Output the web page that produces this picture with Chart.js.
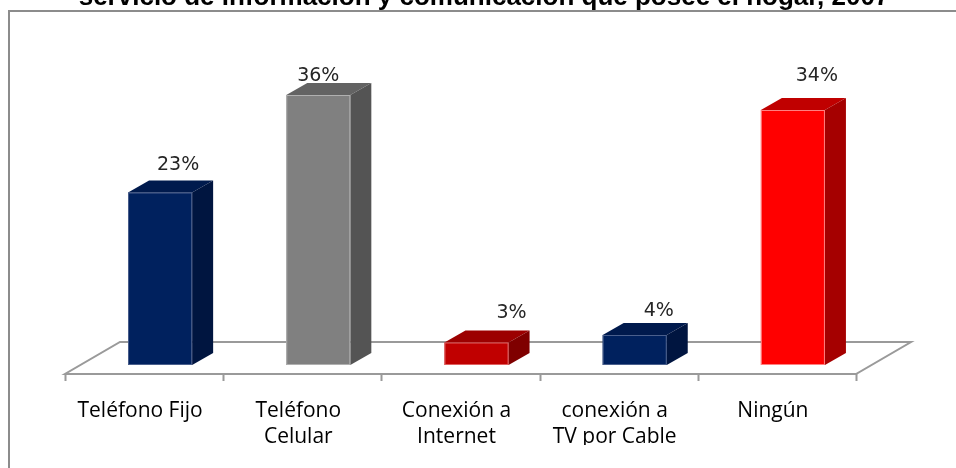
<!DOCTYPE html>
<html>
<head>
<meta charset="utf-8">
<script src="https://cdn.jsdelivr.net/npm/chart.js@4"></script>
<style>
  html, body { margin: 0; padding: 0; background: #fff; }
  #chart { display: block; }
</style>
</head>
<body>
<canvas id="chart" width="956" height="468"></canvas>
<script>
const titleText = "servicio de información y comunicación que posee el hogar, 2007";
const categories = [
  "Teléfono Fijo",
  ["Teléfono", "Celular"],
  ["Conexión a", "Internet"],
  ["conexión a", "TV por Cable"],
  "Ningún",
];
const values = [23, 36, 3, 4, 34];
const valueLabels = ["23%", "36%", "3%", "4%", "34%"];

const frontColors = ["#00215e", "#808080", "#c00000", "#00215e", "#ff0000"];
const sideColors = ["#001540", "#545454", "#7f0000", "#001540", "#a50000"];
const topColors = ["#001a4d", "#636363", "#9c0000", "#001a4d", "#c00000"];
const edgeColors = ["#4a5f8c", "#b0b0b0", "#e06060", "#4a5f8c", "#ff8080"];

// depth of each bar and of the floor, in pixels
const barDepth = { dx: 21, dy: -12 };
const floorFront = { dx: -16, dy: 9 };
const floorBack = { dx: 39, dy: -23 };
// the labels in the original sit a little unevenly
const labelNudge = [[0, 0], [-18, 8], [17, -2], [6, 3], [6, -7]];

const frameAndTitle = {
  id: "frameAndTitle",
  afterDraw(chart) {
    const ctx = chart.ctx;
    ctx.save();
    ctx.fillStyle = "#8c8c8c";
    ctx.fillRect(8, 10, 2, 458);
    ctx.fillRect(8, 10, 948, 2);
    ctx.fillStyle = "#000";
    ctx.font = "bold 26px 'Liberation Sans', Arial, sans-serif";
    ctx.textAlign = "center";
    ctx.textBaseline = "alphabetic";
    ctx.fillText(titleText, 484, 5);
    ctx.restore();
  },
};

const floor3d = {
  id: "floor3d",
  beforeDatasetsDraw(chart) {
    const ctx = chart.ctx;
    const x = chart.scales.x;
    const y0 = chart.scales.y.getPixelForValue(0);
    const fl = x.left + floorFront.dx;
    const fr = x.right + floorFront.dx;
    const fy = y0 + floorFront.dy;
    const bl = x.left + floorBack.dx;
    const br = x.right + floorBack.dx;
    const by = y0 + floorBack.dy;

    ctx.save();
    ctx.strokeStyle = "#9a9a9a";
    ctx.lineWidth = 2;
    ctx.beginPath();
    ctx.moveTo(fl, fy);
    ctx.lineTo(fr, fy);
    ctx.lineTo(br, by);
    ctx.lineTo(bl, by);
    ctx.closePath();
    ctx.stroke();

    const step = (x.right - x.left) / categories.length;
    ctx.beginPath();
    for (let i = 0; i <= categories.length; i++) {
      const tx = Math.round(fl + i * step) + 0.5;
      ctx.moveTo(tx, fy);
      ctx.lineTo(tx, fy + 7);
    }
    ctx.stroke();
    ctx.restore();
  },
};

const bars3d = {
  id: "bars3d",
  afterDatasetsDraw(chart) {
    const ctx = chart.ctx;
    const meta = chart.getDatasetMeta(0);
    ctx.save();
    meta.data.forEach((bar, i) => {
      const { x, y, base, width } = bar.getProps(["x", "y", "base", "width"], true);
      const l = x - width / 2;
      const r = x + width / 2;
      const { dx, dy } = barDepth;

      ctx.fillStyle = topColors[i];
      ctx.beginPath();
      ctx.moveTo(l, y);
      ctx.lineTo(l + dx, y + dy);
      ctx.lineTo(r + dx, y + dy);
      ctx.lineTo(r, y);
      ctx.closePath();
      ctx.fill();

      ctx.fillStyle = sideColors[i];
      ctx.beginPath();
      ctx.moveTo(r, y);
      ctx.lineTo(r + dx, y + dy);
      ctx.lineTo(r + dx, base + dy);
      ctx.lineTo(r, base);
      ctx.closePath();
      ctx.fill();

      ctx.strokeStyle = edgeColors[i];
      ctx.lineWidth = 1;
      ctx.strokeRect(l + 0.5, y + 0.5, width - 1, base - y - 1);

      ctx.fillStyle = "#262626";
      ctx.font = "19px 'DejaVu Sans', Verdana, sans-serif";
      ctx.textAlign = "center";
      ctx.textBaseline = "middle";
      ctx.fillText(valueLabels[i], x + 18 + labelNudge[i][0], y - 27 + labelNudge[i][1]);
    });
    ctx.restore();
  },
};

new Chart(document.getElementById("chart"), {
  type: "bar",
  data: {
    labels: categories,
    datasets: [
      {
        data: values,
        backgroundColor: frontColors,
        borderWidth: 0,
        barPercentage: 0.405,
        categoryPercentage: 1,
      },
    ],
  },
  options: {
    responsive: false,
    animation: false,
    devicePixelRatio: 1,
    layout: {
      padding: { left: 81, right: 84, top: 65, bottom: 23 },
    },
    scales: {
      y: {
        display: false,
        min: 0,
        max: 40,
      },
      x: {
        grid: { display: false, drawTicks: false },
        border: { display: false },
        afterFit: (scale) => {
          scale.height = 80;
        },
        ticks: {
          autoSkip: false,
          maxRotation: 0,
          minRotation: 0,
          labelOffset: -20,
          padding: 33,
          color: "#000",
          font: {
            family: "'Liberation Sans Narrow', 'Open Sans', sans-serif",
            size: 21,
            lineHeight: 1.25,
          },
        },
      },
    },
    plugins: {
      legend: { display: false },
      tooltip: { enabled: false },
    },
  },
  plugins: [floor3d, bars3d, frameAndTitle],
});
</script>
</body>
</html>
